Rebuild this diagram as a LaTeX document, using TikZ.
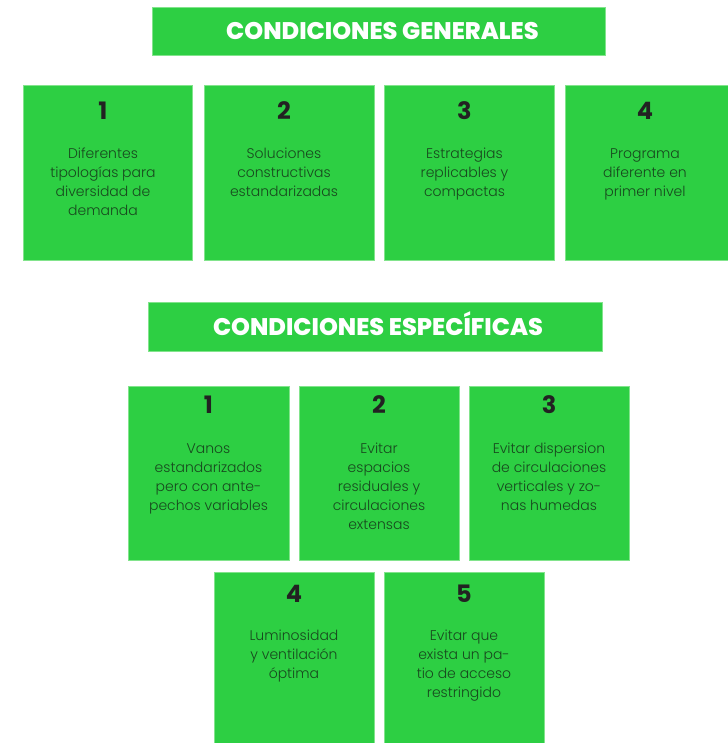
\documentclass[tikz,border=0pt]{standalone}
\usepackage{fontspec}
\setmainfont{Poppins Light}
\newfontfamily\titlefont{Poppins ExtraBold}
\newfontfamily\numfont{Poppins Bold}
\definecolor{boxgreen}{RGB}{45,207,67}
\definecolor{edgegreen}{RGB}{130,228,140}
\definecolor{bodytxt}{RGB}{24,72,30}
\definecolor{numtxt}{RGB}{34,34,34}
\begin{document}
\begin{tikzpicture}[x=1pt,y=-1pt,
  gbox/.style={fill=boxgreen,draw=edgegreen,line width=0.8pt,inner sep=0,outer sep=0,anchor=north west},
  card/.style={gbox,minimum width=170pt,minimum height=175pt},
  cardb/.style={gbox,minimum width=160pt,minimum height=174pt},
  head/.style={gbox,minimum width=453pt,minimum height=48pt},
  title/.style={anchor=base,inner sep=0,text=white,font=\titlefont\fontsize{24}{28}\selectfont},
  num/.style={anchor=base,inner sep=0,text=numtxt,font=\numfont\fontsize{24}{28}\selectfont},
  body/.style={anchor=north,inner sep=0,align=center,text=bodytxt,font=\fontsize{14}{19}\selectfont}]
\useasboundingbox (0,0) rectangle (727,743);
% headers
\node[head] (h1) at (152,7) {};
\node[title] (h1t) at (382.5,39.5) {CONDICIONES GENERALES};
\node[head,minimum width=454pt,minimum height=49pt] (h2) at (148,302) {};
\node[title] (h2t) at (378,335) {CONDICIONES ESPECÍFICAS};
% row 1
\node[card,minimum width=169pt] (g1) at (23,85) {};
\node[card] (g2) at (204,85) {};
\node[card] (g3) at (384,85) {};
\node[card] (g4) at (565,85) {};
\node[num] (g1n) at (103,120) {1};
\node[num] (g2n) at (284,120) {2};
\node[num] (g3n) at (464.5,120) {3};
\node[num] (g4n) at (645,120) {4};
\node[body] (g1b) at (103,144.7) {\strut Diferentes\\tipologías para\\diversidad de\\demanda};
\node[body] (g2b) at (284,144.7) {\strut Soluciones\\constructivas\\estandarizadas};
\node[body] (g3b) at (464.5,144.7) {\strut Estrategias\\replicables y\\compactas};
\node[body] (g4b) at (645,144.7) {\strut Programa\\diferente en\\primer nivel};
% row 2
\node[cardb,minimum width=161pt] (e1) at (128,386) {};
\node[cardb] (e2) at (299,386) {};
\node[cardb] (e3) at (469,386) {};
\node[num] (e1n) at (208.5,413) {1};
\node[num] (e2n) at (379,413) {2};
\node[num] (e3n) at (549,413) {3};
\node[body] (e1b) at (208.5,439.7) {\strut Vanos\\estandarizados\\pero con ante-\\pechos variables};
\node[body] (e2b) at (379,439.7) {\strut Evitar\\espacios\\residuales y\\circulaciones\\extensas};
\node[body] (e3b) at (549,439.7) {\strut Evitar dispersion\\de circulaciones\\verticales y zo-\\nas humedas};
% row 3
\node[cardb,minimum height=180pt] (e4) at (214,572) {};
\node[cardb,minimum height=180pt] (e5) at (384,572) {};
\node[num] (e4n) at (294,602) {4};
\node[num] (e5n) at (464,602) {5};
\node[body] (e4b) at (294,626.7) {\strut Luminosidad\\y ventilación\\óptima};
\node[body] (e5b) at (464,626.7) {\strut Evitar que\\exista un pa-\\tio de acceso\\restringido};
\end{tikzpicture}
\end{document}
